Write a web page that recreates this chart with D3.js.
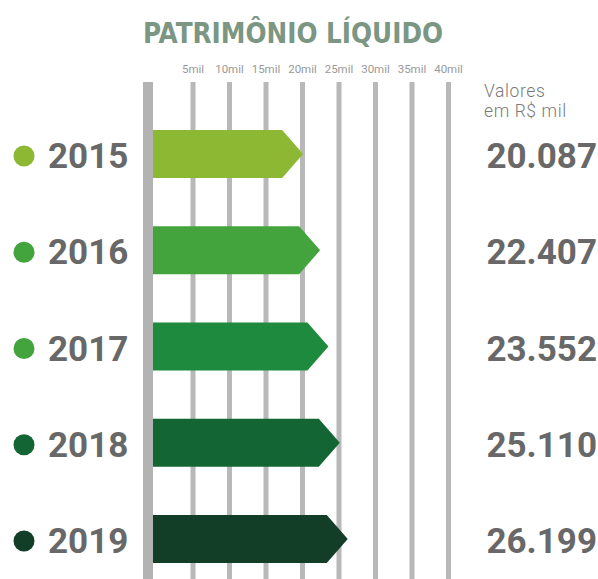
<!DOCTYPE html>
<html><head><meta charset="utf-8">
<script src="https://cdn.jsdelivr.net/npm/d3@7"></script>
<style>html,body{margin:0;padding:0;background:#fff;}svg{display:block;}</style>
</head><body>
<svg id="c" width="598" height="579"></svg>
<script>
const years = ["2015","2016","2017","2018","2019"];
const values = [20087, 22407, 23552, 25110, 26199];
const barColors = ["#8db834","#43a33d","#1e8a3d","#136634","#123d26"];
const dotColors = ["#8db834","#43a33d","#43a33d","#136634","#123d26"];
const tickValues = [5000,10000,15000,20000,25000,30000,35000,40000];
const tickLabels = ["5mil","10mil","15mil","20mil","25mil","30mil","35mil","40mil"];
const title = "PATRIMÔNIO LÍQUIDO";
const unitLines = ["Valores","em R$ mil"];

const fmt = d3.formatLocale({decimal:",",thousands:".",grouping:[3],currency:["R$",""]}).format(",d");
const svg = d3.select("#c");
const W = 598, H = 579;
const x = d3.scaleLinear().domain([0,40000]).range([156.5,448.5]);
const y = d3.scalePoint().domain(years).range([154,539]);
const barH = 48, head = 21, x0 = 153;
const font = "Roboto, 'DejaVu Sans', sans-serif";

svg.append("text").attr("x",143).attr("y",43).text(title)
  .attr("font-family","'DejaVu Sans Condensed', 'DejaVu Sans', sans-serif").attr("font-weight","bold")
  .attr("font-size",29).attr("fill","#7b9682")
  .attr("textLength",300).attr("lengthAdjust","spacingAndGlyphs");

// gridlines
svg.append("g").selectAll("rect").data(tickValues).join("rect")
  .attr("x",d=>x(d)-2.5).attr("width",5).attr("y",82).attr("height",H-82).attr("fill","#b8b8b8");
svg.append("g").selectAll("text").data(tickValues).join("text")
  .attr("x",d=>x(d)).attr("y",73).attr("text-anchor","middle")
  .attr("font-family",font).attr("font-size",11.5).attr("fill","#9a9a9a")
  .text((d,i)=>tickLabels[i]);
// thick axis bar
svg.append("rect").attr("x",143).attr("width",10).attr("y",82).attr("height",H-82).attr("fill","#b3b3b3");

// arrow bars
svg.append("g").selectAll("path").data(years).join("path")
  .attr("fill",(d,i)=>barColors[i])
  .attr("d",(d,i)=>{
    const p = d3.path(), cy = y(d), xe = x(values[i]);
    p.moveTo(x0, cy-barH/2); p.lineTo(xe-head, cy-barH/2); p.lineTo(xe, cy);
    p.lineTo(xe-head, cy+barH/2); p.lineTo(x0, cy+barH/2); p.closePath();
    return p.toString();
  });

// dots & years
svg.append("g").selectAll("circle").data(years).join("circle")
  .attr("cx",24).attr("cy",d=>y(d)+2).attr("r",10.5).attr("fill",(d,i)=>dotColors[i]);
svg.append("g").selectAll("text").data(years).join("text")
  .attr("x",48).attr("y",d=>y(d)+14).text(d=>d)
  .attr("font-family",font).attr("font-weight","bold").attr("font-size",35).attr("fill","#686868");

// values
svg.append("g").selectAll("text").data(values).join("text")
  .attr("x",597).attr("y",(d,i)=>y(years[i])+14).attr("text-anchor","end").text(d=>fmt(d))
  .attr("font-family",font).attr("font-weight","bold").attr("font-size",35).attr("fill","#686868");

svg.append("g").selectAll("text").data(unitLines).join("text")
  .attr("x",484).attr("y",(d,i)=>97+i*20).text(d=>d)
  .attr("font-family",font).attr("font-weight",300).attr("font-size",17.5)
  .attr("letter-spacing",0.6).attr("fill","#7a7a7a");
</script>
</body></html>
